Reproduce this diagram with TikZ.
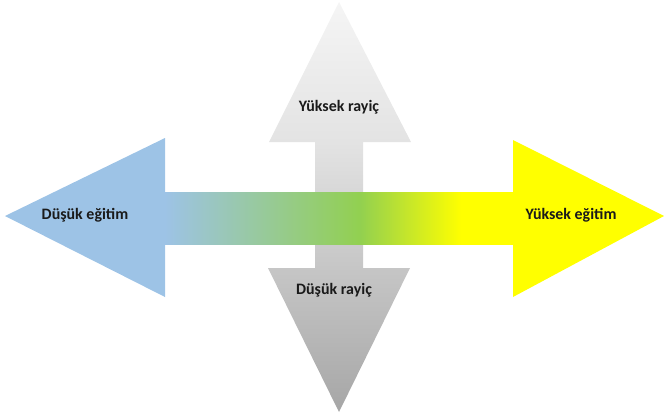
\documentclass[tikz,border=0pt]{standalone}
\usepackage{fontspec}
\setmainfont{Carlito}
\usetikzlibrary{positioning}

\definecolor{lowblue}{HTML}{9DC3E6}
\definecolor{midgreen}{HTML}{92D050}
\definecolor{highyellow}{HTML}{FFFF00}
\definecolor{topgray}{HTML}{F5F5F5}
\definecolor{upgray}{HTML}{E3E3E3}
\definecolor{downgray}{HTML}{C6C6C6}
\definecolor{bottomgray}{HTML}{A6A6A6}
\definecolor{labeltext}{HTML}{1A1A1A}

% shaft runs 25bp..75bp of the shading
\pgfdeclarehorizontalshading{shaftshade}{100bp}{color(0bp)=(lowblue); color(25bp)=(lowblue); color(53bp)=(midgreen); color(67.5bp)=(highyellow); color(100bp)=(highyellow)}
% bottom to top
\pgfdeclareverticalshading{rayicshade}{100bp}{color(0bp)=(bottomgray); color(25bp)=(bottomgray); color(42.6bp)=(downgray); color(57.9bp)=(upgray); color(75bp)=(topgray); color(100bp)=(topgray)}

\tikzset{
  axislabel/.style={font=\bfseries\fontsize{13.6}{16}\selectfont, text=labeltext, inner sep=1pt}
}

\begin{document}
\begin{tikzpicture}[x=0.03cm, y=-0.03cm]

\useasboundingbox (0,0) rectangle (667,414);

% vertical arrow (rayic)
\path[shading=rayicshade]
  (339,2) -- (411,142) -- (363,142) -- (363,268) -- (410,268) -- (339,412)
  -- (268,268) -- (315,268) -- (315,142) -- (269,142) -- cycle;

% horizontal arrow (egitim)
\fill[lowblue] (5,216) -- (165,138) -- (165,297) -- cycle;
\fill[highyellow] (513,140) -- (664,216) -- (513,297) -- cycle;
\path[shading=shaftshade] (164.6,192) rectangle (513.4,244);

% labels
\node[axislabel] (lowedu) at (85,215) {Düşük eğitim};
\node[axislabel] (highedu) at (571,215) {Yüksek eğitim};
\node[axislabel] (highval) at (339,107) {Yüksek rayiç};
\node[axislabel] (lowval) at (334,290) {Düşük rayiç};

\end{tikzpicture}
\end{document}
